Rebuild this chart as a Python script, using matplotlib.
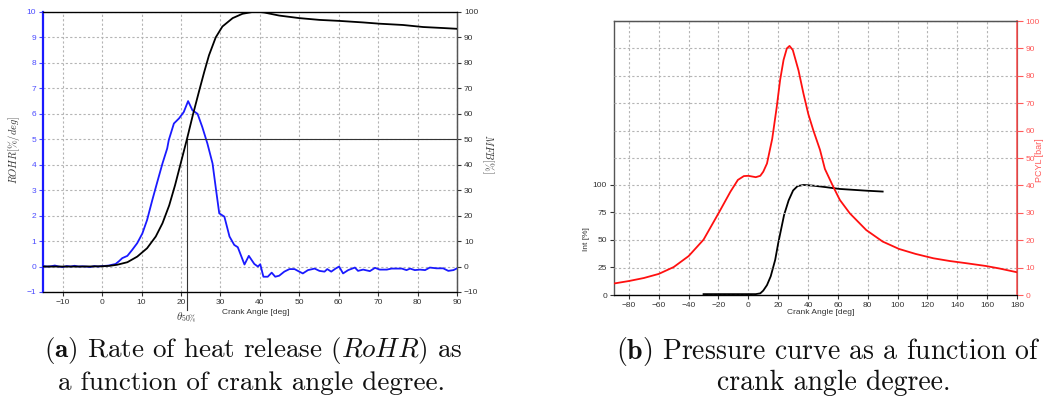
import matplotlib
matplotlib.use("Agg")
import matplotlib.pyplot as plt

plt.rcParams["mathtext.fontset"] = "cm"
plt.rcParams["font.family"] = ["Liberation Sans", "DejaVu Sans"]

# ---- (a) rate of heat release and mass fraction burned ----
rohr_deg = [-15, -14, -13, -12, -11, -10, -9, -8, -7, -6, -5, -4, -3, -2, -1, 0, 1, 1.7,
            2.5, 3.4, 4.2, 5.1, 6.4, 7.6, 8.9, 10.2, 11.4, 12.7, 14.0, 15.3, 16.5, 16.9,
            18.2, 19.5, 20.7, 21.8, 22.9, 24.2, 25.4, 26.7, 28.0, 28.9, 29.7, 31.0, 32.3,
            33.5, 34.4, 36.1, 37.2, 38.6, 39.5, 40.1, 40.9, 42.0, 43.0, 43.9, 44.9, 46.2,
            47.5, 48.8, 50.0, 50.9, 52.2, 53.9, 55.1, 56.4, 57.1, 58.1, 59.2, 60.1, 61.1,
            62.4, 64.1, 64.9, 66.2, 67.9, 69.2, 70.4, 72.2, 73.4, 76.0, 77.2, 78.1, 79.3,
            80.6, 81.9, 83.1, 84.8, 86.5, 87.8, 89.1, 90.0]
rohr_val = [0.02, 0.0, 0.01, 0.04, 0.0, -0.02, 0.02, 0.0, 0.03, 0.0, 0.01, 0.0, -0.02, 0.02,
            0.0, 0.02, 0.03, 0.04, 0.07, 0.1, 0.2, 0.33, 0.42, 0.65, 0.92, 1.3, 1.83, 2.6,
            3.33, 4.05, 4.64, 4.97, 5.62, 5.82, 6.07, 6.5, 6.14, 6.0, 5.48, 4.83, 4.05, 3.0,
            2.09, 1.96, 1.18, 0.85, 0.76, 0.08, 0.42, 0.1, 0.0, 0.09, -0.4, -0.4, -0.24,
            -0.4, -0.36, -0.2, -0.1, -0.1, -0.2, -0.27, -0.14, -0.08, -0.17, -0.2, -0.1,
            -0.2, -0.08, 0.0, -0.27, -0.14, -0.04, -0.17, -0.12, -0.18, -0.05, -0.12, -0.12,
            -0.08, -0.08, -0.14, -0.08, -0.14, -0.12, -0.14, -0.04, -0.07, -0.07, -0.17,
            -0.14, -0.07]

mfb_deg = [-15, -5, 0, 2, 3.8, 6.4, 8.9, 11.4, 13.6, 15.3, 17, 18.5, 20, 21.5, 23, 24.6,
           25.9, 27.1, 28.8, 30.5, 33.1, 35.6, 38.1, 40, 41.1, 44.9, 50, 55.1, 60.2, 66.2,
           70.4, 76.3, 81.4, 86.5, 90]
mfb_val = [0, 0, 0.1, 0.3, 0.7, 1.7, 3.9, 7.2, 11.8, 17, 24, 32, 41, 50, 59.5, 69, 76.5,
           83, 90, 94.3, 97.6, 99.3, 100, 100, 99.8, 98.6, 97.6, 96.9, 96.5, 95.9, 95.4,
           94.9, 94.1, 93.7, 93.4]

theta50 = 21.5
mfb_ref = 50

# ---- (b) integrated heat release and cylinder pressure ----
int_deg = [-30, -20, -10, 0, 5, 8, 10, 12.5, 15, 18, 20, 22, 24, 27, 30, 33, 37, 44, 52,
           61, 79, 90]
int_val = [0.8, 0.8, 0.8, 0.8, 0.8, 1.5, 4, 9, 17, 32, 47, 60, 73, 86, 95, 99, 100, 99.3,
           98, 96.4, 94.8, 94]

pcyl_deg = [-90, -80, -70, -60, -50, -40, -30, -20, -12, -7, -3, 0, 5, 8, 10, 12.5, 16, 19,
            21.3, 23.6, 25.8, 27.6, 29.8, 33.6, 36.9, 40.2, 43.6, 48, 51.3, 56.9, 61.3, 68,
            79, 90, 101, 112, 124, 135, 146, 159, 168, 180]
pcyl_val = [4.2, 5.1, 6.2, 7.7, 10.2, 14.2, 20.2, 29.8, 37.7, 42, 43.4, 43.5, 43.0, 43.5,
            45, 48, 57, 68.5, 78.5, 85.8, 90, 90.9, 89.4, 82, 73.6, 66, 60, 53, 46, 39.5,
            34.7, 29.8, 23.7, 19.5, 16.8, 15, 13.4, 12.4, 11.6, 10.6, 9.7, 8.3]

W, H = 1048, 405
fig = plt.figure(figsize=(W / 100, H / 100), dpi=100)


def box(l, t, r, b):
    return [l / W, 1 - b / H, (r - l) / W, (b - t) / H]


grid_kw = dict(color="#b4b4b4", linestyle=(0, (2, 2)), linewidth=0.8)
tick_fs = 6
blue = "#1a1aff"
blue_lbl = "#4a4aff"
red = "#ff1010"
red_lbl = "#ff5a5a"

# ---------------- panel (a) ----------------
ax1 = fig.add_axes(box(43, 12, 457, 292))
ax1.set_xlim(-15, 90)
ax1.set_ylim(-1, 10)
ax1.set_xticks(range(-10, 91, 10))
ax1.set_yticks(range(-1, 11))
ax1.grid(True, **grid_kw)
ax1.set_axisbelow(True)
ax1.plot(rohr_deg, rohr_val, color=blue, lw=1.3, zorder=3)
ax1.tick_params(axis="y", colors=blue_lbl, labelsize=tick_fs, length=3, width=0.8, pad=2)
ax1.tick_params(axis="x", colors="#333333", labelsize=tick_fs, length=3, width=0.8, pad=2)
ax1.spines["left"].set_color(blue)
ax1.spines["left"].set_linewidth(1.6)
for s in ("top", "bottom", "right"):
    ax1.spines[s].set_color("#555555")
    ax1.spines[s].set_linewidth(1.0)

ax1b = ax1.twinx()
ax1b.set_ylim(-10, 100)
ax1b.set_yticks(range(-10, 101, 10))
ax1b.plot(mfb_deg, mfb_val, color="black", lw=1.3, zorder=4)
ax1b.plot([theta50, 90], [mfb_ref, mfb_ref], color="#333333", lw=0.8)
ax1b.plot([theta50, theta50], [-17, mfb_ref], color="#333333", lw=0.8, clip_on=False)
ax1b.tick_params(axis="y", colors="#333333", labelsize=tick_fs, length=3, width=0.8, pad=2)
ax1b.spines["right"].set_color("#555555")
ax1b.spines["left"].set_visible(False)

fig.text(14 / W, 1 - 150 / H, r"$ROHR[\%/deg]$", rotation=90, ha="center", va="center",
         fontsize=7.5, color="#333333")
fig.text(488 / W, 1 - 154 / H, r"$MFB[\%]$", rotation=270, ha="center", va="center",
         fontsize=7.5, color="#333333")
fig.text(222 / W, 1 - 312 / H, "Crank Angle [deg]", ha="left", va="center",
         fontsize=6, color="#333333")
fig.text(186 / W, 1 - 318 / H, r"$\theta_{50\%}$", ha="center", va="center",
         fontsize=8, color="#333333")

# ---------------- panel (b) ----------------
ax2 = fig.add_axes(box(614, 21, 1017, 295))
ax2.set_xlim(-90, 180)
ax2.set_ylim(0, 249)
ax2.set_xticks(range(-80, 181, 20))
ax2.set_yticks([0, 25, 50, 75, 100])
ax2.grid(True, axis="x", **grid_kw)
ax2.plot(int_deg, int_val, color="black", lw=1.3, zorder=4)
ax2.tick_params(axis="both", colors="#333333", labelsize=tick_fs, length=3, width=0.8, pad=2)
for s in ("top", "bottom", "left"):
    ax2.spines[s].set_color("#555555")
    ax2.spines[s].set_linewidth(1.0)

ax2b = ax2.twinx()
ax2b.set_ylim(0, 100)
ax2b.set_yticks(range(0, 101, 10))
ax2b.grid(True, axis="y", **grid_kw)
ax2b.set_axisbelow(True)
ax2b.plot(pcyl_deg, pcyl_val, color=red, lw=1.3, zorder=3)
ax2b.tick_params(axis="y", colors=red_lbl, labelsize=tick_fs, length=4, width=0.8, pad=2)
ax2b.spines["right"].set_color(red_lbl)
ax2b.spines["right"].set_linewidth(1.2)
ax2b.spines["left"].set_visible(False)
ax2b.spines["top"].set_color("#555555")

fig.text(587 / W, 1 - 239 / H, "Int [%]", rotation=90, ha="center", va="center",
         fontsize=6, color="#333333")
fig.text(1039 / W, 1 - 160 / H, "PCYL [bar]", rotation=90, ha="center", va="center",
         fontsize=6.5, color=red_lbl)
fig.text(787 / W, 1 - 313 / H, "Crank Angle [deg]", ha="left", va="center",
         fontsize=6, color="#333333")

# ---------------- captions ----------------
cap_kw = dict(ha="center", va="center", family="cmr10", color="#111111")
fig.text(253 / W, 1 - 351 / H, r"$\mathbf{(a)}$ Rate of heat release ($RoHR$) as",
         fontsize=19.5, **cap_kw)
fig.text(251 / W, 1 - 383 / H, "a function of crank angle degree.", fontsize=19.5, **cap_kw)
fig.text(828 / W, 1 - 351 / H, r"$\mathbf{(b)}$ Pressure curve as a function of",
         fontsize=20, **cap_kw)
fig.text(834 / W, 1 - 383 / H, "crank angle degree.", fontsize=20, **cap_kw)

fig.savefig("out.png", dpi=100)
